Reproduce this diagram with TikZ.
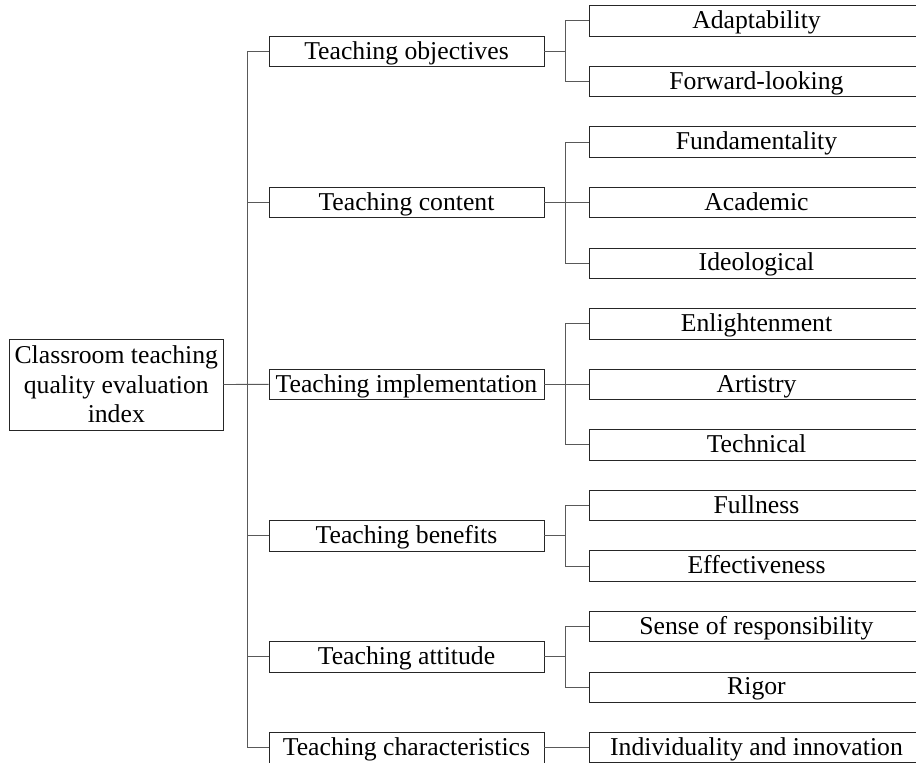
\documentclass[tikz,border=0pt]{standalone}
\usepackage{fontspec}
\setmainfont{Liberation Serif}
\tikzset{
  rootbox/.style={draw=black!85,line width=0.9pt,inner sep=0pt,align=center,minimum width=213.4pt,minimum height=91pt},
  box/.style={draw=black!85,line width=0.9pt,inner sep=0pt,text height=20.6pt,text depth=5.1pt},
  crit/.style={box,minimum width=275pt,minimum height=30.6pt},
  item/.style={box,minimum width=335pt,minimum height=30.4pt},
  link/.style={draw=black!65,line width=0.9pt},
}
\begin{document}
\begin{tikzpicture}[x=1pt,y=-1pt,font=\fontsize{25.7}{29.5}\selectfont]
\clip (0,0) rectangle (916,763);
\node[rootbox] (root) at (116.3,384.5) {Classroom teaching\\quality evaluation\\index};
% first level
\node[crit] (obj) at (406.5,51.4) {Teaching objectives};
\node[crit] (cont) at (406.5,202.6) {Teaching content};
\node[crit] (impl) at (406.5,384.3) {Teaching implementation};
\node[crit] (bene) at (406.5,535.7) {Teaching benefits};
\node[crit] (atti) at (406.5,656.9) {Teaching attitude};
\node[crit] (chara) at (406.5,747.7) {Teaching characteristics};
% second level
\node[item] (adapt) at (756.5,20.9) {Adaptability};
\node[item] (forw) at (756.5,81.5) {Forward-looking};
\node[item] (fund) at (756.5,142.0) {Fundamentality};
\node[item] (acad) at (756.5,202.6) {Academic};
\node[item] (ideo) at (756.5,263.2) {Ideological};
\node[item] (enli) at (756.5,323.8) {Enlightenment};
\node[item] (arti) at (756.5,384.3) {Artistry};
\node[item] (tech) at (756.5,444.9) {Technical};
\node[item] (full) at (756.5,505.5) {Fullness};
\node[item] (effe) at (756.5,566.0) {Effectiveness};
\node[item] (resp) at (756.5,626.6) {Sense of responsibility};
\node[item] (rigo) at (756.5,687.2) {Rigor};
\node[item] (indi) at (756.5,747.7) {Individuality and innovation};
\coordinate (trunk) at (247.7,0);
\coordinate (sub) at (565,0);
% trunk
\draw[link] (root.east) -- (impl.west);
\draw[link] (obj.west) -| (trunk |- chara.west) -- (chara.west);
\draw[link] (cont.west) -- (cont.west -| trunk);
\draw[link] (bene.west) -- (bene.west -| trunk);
\draw[link] (atti.west) -- (atti.west -| trunk);
% branches
\draw[link] (obj.east) -- (obj.east -| sub);
\draw[link] (adapt.west) -| (sub |- forw.west) -- (forw.west);
\draw[link] (cont.east) -- (acad.west);
\draw[link] (fund.west) -| (sub |- ideo.west) -- (ideo.west);
\draw[link] (impl.east) -- (arti.west);
\draw[link] (enli.west) -| (sub |- tech.west) -- (tech.west);
\draw[link] (bene.east) -- (bene.east -| sub);
\draw[link] (full.west) -| (sub |- effe.west) -- (effe.west);
\draw[link] (atti.east) -- (atti.east -| sub);
\draw[link] (resp.west) -| (sub |- rigo.west) -- (rigo.west);
\draw[link] (chara.east) -- (indi.west);
\end{tikzpicture}
\end{document}
